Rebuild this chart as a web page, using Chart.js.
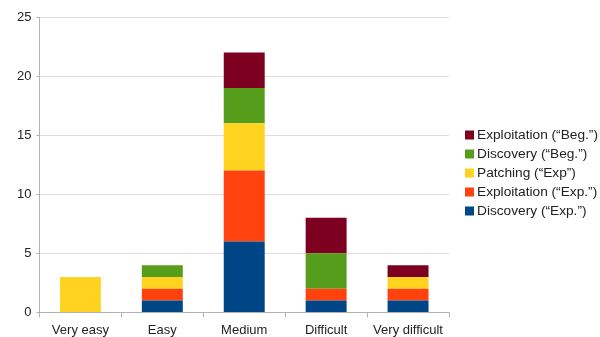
<!DOCTYPE html>
<html>
<head>
<meta charset="utf-8">
<script src="https://cdn.jsdelivr.net/npm/chart.js@4/dist/chart.umd.min.js"></script>
<style>
  html, body { margin: 0; padding: 0; background: #ffffff; }
  #wrap { width: 600px; height: 337px; position: relative; }
</style>
</head>
<body>
<div id="wrap"><canvas id="c" width="600" height="337"></canvas></div>
<script>
// Difficulty levels along the x axis
const categories = ['Very easy', 'Easy', 'Medium', 'Difficult', 'Very difficult'];

// Counts per difficulty level, stacked bottom to top
const discoveryExp    = [0, 1, 6, 1, 1];
const exploitationExp = [0, 1, 6, 1, 1];
const patchingExp     = [3, 1, 4, 0, 1];
const discoveryBeg    = [0, 1, 3, 3, 0];
const exploitationBeg = [0, 0, 3, 3, 1];

const seriesNames = [
  'Discovery (“Exp.”)',
  'Exploitation (“Exp.”)',
  'Patching (“Exp”)',
  'Discovery (“Beg.”)',
  'Exploitation (“Beg.”)'
];
const seriesColors = ['#004586', '#ff420e', '#ffd320', '#579d1c', '#7e0021'];
const seriesValues = [discoveryExp, exploitationExp, patchingExp, discoveryBeg, exploitationBeg];

const FONT = '"Liberation Sans", Arial, sans-serif';
const TEXT = '#222222';
const AXIS = '#b3b3b3';
const GRID = '#dddddd';

// Legend listed top-down from the highest stack segment, drawn to the right of the plot
const sideLegend = {
  id: 'sideLegend',
  afterDraw(chart) {
    const ctx = chart.ctx;
    const ds = chart.data.datasets;
    const x0 = 465, yTop = 135, step = 19, box = 9;
    ctx.save();
    ctx.font = '13.7px ' + FONT;
    ctx.textBaseline = 'middle';
    ctx.textAlign = 'left';
    for (let i = 0; i < ds.length; i++) {
      const d = ds[ds.length - 1 - i];
      const y = yTop + i * step;
      ctx.fillStyle = d.backgroundColor;
      ctx.fillRect(x0, y - box / 2, box, box);
      ctx.fillStyle = TEXT;
      ctx.fillText(d.label, x0 + 12, y + 0.5);
    }
    ctx.restore();
  }
};

new Chart(document.getElementById('c'), {
  type: 'bar',
  data: {
    labels: categories,
    datasets: seriesValues.map((vals, i) => ({
      label: seriesNames[i],
      data: vals,
      backgroundColor: seriesColors[i],
      borderWidth: 0,
      barPercentage: 0.5,
      categoryPercentage: 1.0
    }))
  },
  options: {
    responsive: false,
    animation: false,
    layout: { padding: { left: 12, right: 151, top: 17, bottom: -6 } },
    plugins: {
      legend: { display: false },
      tooltip: { enabled: false }
    },
    scales: {
      x: {
        stacked: true,
        offset: true,
        grid: {
          offset: true,
          drawOnChartArea: true,
          color: (c) => (c.index === 0 || c.index === categories.length) ? AXIS : 'rgba(0,0,0,0)',
          tickColor: AXIS,
          tickLength: 5
        },
        border: { color: AXIS, width: 1 },
        ticks: { color: TEXT, font: { family: FONT, size: 13 }, padding: 5 }
      },
      y: {
        stacked: true,
        min: 0,
        max: 25,
        ticks: { stepSize: 5, color: TEXT, font: { family: FONT, size: 13 }, padding: 5 },
        grid: { color: GRID, tickColor: AXIS, tickLength: 3 },
        border: { color: AXIS, width: 1 }
      }
    }
  },
  plugins: [sideLegend]
});
</script>
</body>
</html>
